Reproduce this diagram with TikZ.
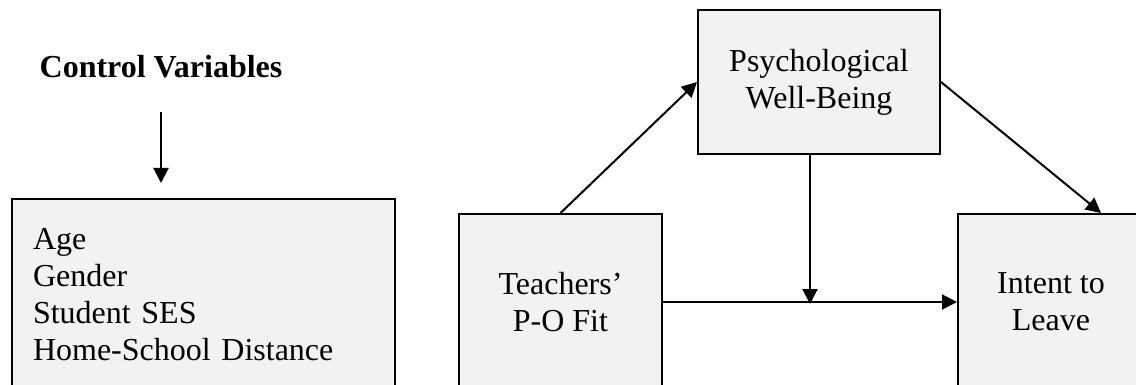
\documentclass[tikz,border=0pt]{standalone}
\usepackage{fontspec}
\setmainfont{Liberation Serif}
\usetikzlibrary{arrows.meta,calc}
\definecolor{boxgray}{HTML}{F2F2F2}
\begin{document}
\begin{tikzpicture}[x=0.5pt,y=-0.5pt,
  box/.style={draw=black, line width=1pt, fill=boxgray, inner sep=0pt, align=center,
    font=\fontsize{16pt}{18.5pt}\selectfont, anchor=north west},
  conn/.style={line width=1pt, -{Triangle[length=7.5pt,width=7.5pt]}},
  lbl/.style={font=\fontsize{16pt}{18.5pt}\selectfont\bfseries, inner sep=0pt, anchor=base}]
\clip (0,0) rectangle (1136,385);
\fill[white] (0,0) rectangle (1136,385);
% label
\node[lbl] (cv) at (161,78) {Control Variables};
% boxes
\node[box, minimum width=191.5pt, minimum height=96pt, text width=170.5pt, align=left] (ctrl) at (11,198)
  {Age\\Gender\\Student SES\\Home-School Distance};
\node[box, minimum width=101.5pt, minimum height=88pt] (teach) at (458,213) {Teachers’\\P-O Fit};
\node[box, minimum width=121pt, minimum height=72pt] (psych) at (697,9) {Psychological\\Well-Being};
\node[box, minimum width=93pt, minimum height=88pt] (intent) at (957,213) {Intent to\\Leave};
% connectors
\draw[conn, shorten <=16.5pt, shorten >=7.5pt] (cv.south) -- (ctrl.north -| cv.south);
\draw[conn] (teach.north) -- (psych.west);
\draw[conn] (psych.east) -- ([xshift=25pt]intent.north);
\draw[conn] (teach.east) -- (intent.west);
\coordinate (mid) at ($(teach.east)!0.5!(intent.west)$);
\draw[conn] (psych.south -| mid) -- ([yshift=-1pt]mid);
\end{tikzpicture}
\end{document}
